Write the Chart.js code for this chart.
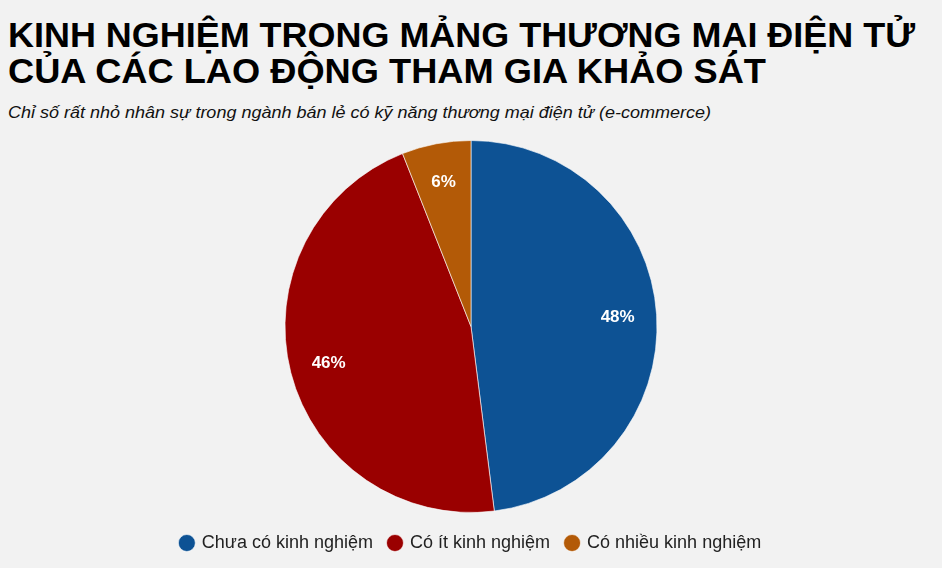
<!DOCTYPE html>
<html>
<head>
<meta charset="utf-8">
<script src="https://cdn.jsdelivr.net/npm/chart.js@4"></script>
<style>
  body { margin: 0; background: #f2f2f2; width: 942px; height: 568px; overflow: hidden; font-family: "Liberation Sans", Arial, sans-serif; }
  .fit { position: absolute; left: 8px; white-space: nowrap; transform-origin: 0 0; color: #000; }
  #t1 { top: 17px; font-size: 35px; font-weight: bold; line-height: 35px; }
  #t2 { top: 53px; font-size: 35px; font-weight: bold; line-height: 35px; }
  #sub { top: 103px; font-size: 17px; font-style: italic; line-height: 20px; color: #111; }
  #wrap { position: absolute; left: 0; top: 135px; width: 942px; height: 433px; }
</style>
</head>
<body>
<div id="t1" class="fit" data-w="907">KINH NGHIỆM TRONG MẢNG THƯƠNG MẠI ĐIỆN TỬ</div>
<div id="t2" class="fit" data-w="758">CỦA CÁC LAO ĐỘNG THAM GIA KHẢO SÁT</div>
<div id="sub" class="fit" data-w="703">Chỉ số rất nhỏ nhân sự trong ngành bán lẻ có kỹ năng thương mại điện tử (e-commerce)</div>
<div id="wrap"><canvas id="c"></canvas></div>
<script>
// squeeze the heading lines to the narrow look of the original
document.querySelectorAll('.fit').forEach(function (el) {
  const w = el.getBoundingClientRect().width;
  el.style.transform = 'scaleX(' + (parseFloat(el.dataset.w) / w) + ')';
});

const categories = ['Chưa có kinh nghiệm', 'Có ít kinh nghiệm', 'Có nhiều kinh nghiệm'];
const shares = [48, 46, 6];
const sliceColors = ['#0d5294', '#9a0000', '#b35a07'];

// write the percentage inside each slice
const sliceLabels = {
  id: 'sliceLabels',
  afterDatasetsDraw(chart) {
    const ctx = chart.ctx;
    const meta = chart.getDatasetMeta(0);
    ctx.save();
    ctx.fillStyle = '#ffffff';
    ctx.font = 'bold 17px "Liberation Sans", Arial, sans-serif';
    ctx.textAlign = 'center';
    ctx.textBaseline = 'middle';
    meta.data.forEach(function (arc, i) {
      const mid = (arc.startAngle + arc.endAngle) / 2;
      const r = arc.outerRadius * 0.79;
      ctx.fillText(shares[i] + '%', arc.x + Math.cos(mid) * r, arc.y + Math.sin(mid) * r);
    });
    ctx.restore();
  }
};

new Chart(document.getElementById('c'), {
  type: 'pie',
  data: {
    labels: categories,
    datasets: [{
      data: shares,
      backgroundColor: sliceColors,
      borderColor: 'rgba(255,255,255,0.6)',
      borderWidth: 1,
      radius: 186
    }]
  },
  options: {
    responsive: true,
    maintainAspectRatio: false,
    animation: false,
    layout: { padding: { top: 0, bottom: 6 } },
    plugins: {
      tooltip: { enabled: false },
      legend: {
        position: 'bottom',
        labels: {
          usePointStyle: true,
          pointStyle: 'circle',
          boxWidth: 12,
          boxHeight: 12,
          padding: 16,
          color: '#222',
          font: { family: '"Liberation Sans", Arial, sans-serif', size: 18 }
        }
      }
    }
  },
  plugins: [sliceLabels]
});
</script>
</body>
</html>
